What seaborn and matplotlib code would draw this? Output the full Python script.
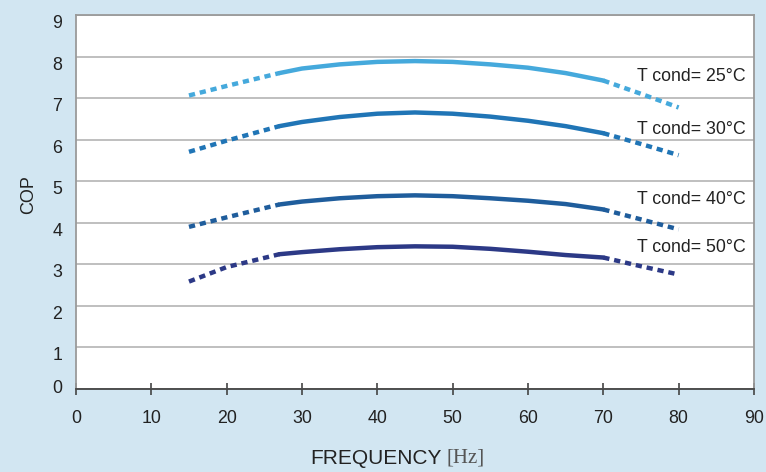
import pandas as pd
import matplotlib.pyplot as plt
import seaborn as sns

# Values
FREQ = [15, 20, 27, 30, 35, 40, 45, 50, 55, 60, 65, 70, 75, 80]
COP_25 = [7.07, 7.30, 7.61, 7.72, 7.82, 7.88, 7.90, 7.88, 7.82, 7.74, 7.61, 7.43, 7.11, 6.78]
COP_30 = [5.71, 5.98, 6.33, 6.43, 6.55, 6.63, 6.66, 6.63, 6.56, 6.46, 6.33, 6.16, 5.90, 5.63]
COP_40 = [3.90, 4.13, 4.44, 4.51, 4.59, 4.64, 4.66, 4.64, 4.59, 4.53, 4.45, 4.32, 4.08, 3.84]
COP_50 = [2.58, 2.93, 3.24, 3.29, 3.36, 3.41, 3.43, 3.42, 3.37, 3.30, 3.22, 3.16, 2.95, 2.75]
SERIES = ['T cond= 25°C', 'T cond= 30°C', 'T cond= 40°C', 'T cond= 50°C']
SOLID_FROM, SOLID_TO = 27, 70  # measured range, dotted outside
X_TICKS = list(range(0, 100, 10))
Y_TICKS = list(range(0, 10))

COLORS = ['#45a9dc', '#2075b6', '#1f5d9c', '#2c3986']
BG = '#d2e6f2'

sns.set_theme(style="white")
plt.rcParams['font.family'] = ['Liberation Sans', 'DejaVu Sans']

# long format table, split into pre / measured / post segments
rows = []
for name, vals in zip(SERIES, [COP_25, COP_30, COP_40, COP_50]):
    for f, v in zip(FREQ, vals):
        if f <= SOLID_FROM:
            rows.append((name, 'pre', 'dotted', f, v))
        if SOLID_FROM <= f <= SOLID_TO:
            rows.append((name, 'mid', 'solid', f, v))
        if f >= SOLID_TO:
            rows.append((name, 'post', 'dotted', f, v))
df = pd.DataFrame(rows, columns=['series', 'seg', 'kind', 'freq', 'cop'])

fig = plt.figure(figsize=(7.66, 4.72), dpi=100, facecolor=BG)
ax = fig.add_axes([0.0992, 0.1769, 0.8851, 0.7903])
ax.set_facecolor('white')

sns.lineplot(
    data=df, x='freq', y='cop', hue='series', style='kind', units='seg',
    estimator=None, palette=COLORS, hue_order=SERIES,
    dashes={'solid': '', 'dotted': (1.4, 1.1)}, linewidth=3.2,
    legend=False, ax=ax,
)

# curve labels on the right
label_y = [7.53, 6.25, 4.56, 3.39]
for name, y in zip(SERIES, label_y):
    ax.text(88.9, y, name, ha='right', va='center', fontsize=12.8, color='#222222')

ax.set_xlim(0, 90)
ax.set_ylim(0, 9)
ax.set_xticks(X_TICKS)
ax.set_yticks(Y_TICKS)
ax.yaxis.grid(True, color='#b4b4b4', linewidth=1.2)
ax.set_axisbelow(True)

ax.tick_params(axis='x', direction='inout', length=9, width=1.2, color='#444444',
               labelsize=12.8, labelcolor='#222222', pad=11, bottom=True)
ax.tick_params(axis='y', length=0, labelsize=12.8, labelcolor='#222222', pad=10)
for lab in ax.get_yticklabels():
    lab.set_va('top')
ax.get_yticklabels()[0].set_va('center')

for side in ['left', 'top', 'right']:
    ax.spines[side].set_color('#9a9a9a')
    ax.spines[side].set_linewidth(1.3)
ax.spines['bottom'].set_color('#444444')
ax.spines['bottom'].set_linewidth(1.3)

ax.set_ylabel('COP', fontsize=13, color='#222222')
ax.yaxis.set_label_coords(-0.058, 0.52)
ax.set_xlabel('FREQUENCY', fontsize=15, color='#222222')
ax.xaxis.set_label_coords(0.442, -0.162)
ax.annotate('[Hz]', xy=(1, 0), xycoords=ax.xaxis.label, xytext=(4, 0),
            textcoords='offset points', ha='left', va='bottom',
            fontsize=15, color='#555555', family=['Liberation Serif', 'DejaVu Serif'])

fig.savefig('out.png', dpi=100, facecolor=BG)
